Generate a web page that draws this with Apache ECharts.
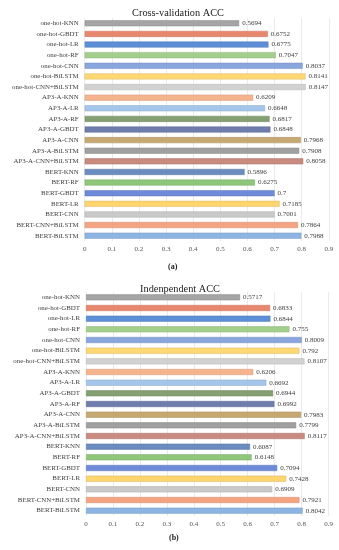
<!DOCTYPE html>
<html><head><meta charset="utf-8">
<script src="https://cdn.jsdelivr.net/npm/echarts@6/dist/echarts.min.js"></script>
<style>html,body{margin:0;padding:0;background:#fff}#c{width:339px;height:550px}</style>
</head><body><div id="c"></div>
<script>
const cvCategories = ["one-hot-KNN","one-hot-GBDT","one-hot-LR","one-hot-RF","one-hot-CNN","one-hot-BiLSTM","one-hot-CNN+BiLSTM",
  "AP3-A-KNN","AP3-A-LR","AP3-A-RF","AP3-A-GBDT","AP3-A-CNN","AP3-A-BiLSTM","AP3-A-CNN+BiLSTM",
  "BERT-KNN","BERT-RF","BERT-GBDT","BERT-LR","BERT-CNN","BERT-CNN+BiLSTM","BERT-BiLSTM"];
const cvValues = [0.5694,0.6752,0.6775,0.7047,0.8037,0.8141,0.8147,
  0.6209,0.6648,0.6817,0.6848,0.7968,0.7908,0.8058,
  0.5896,0.6275,0.7,0.7185,0.7001,0.7864,0.7988];
const indCategories = ["one-hot-KNN","one-hot-GBDT","one-hot-LR","one-hot-RF","one-hot-CNN","one-hot-BiLSTM","one-hot-CNN+BiLSTM",
  "AP3-A-KNN","AP3-A-LR","AP3-A-GBDT","AP3-A-RF","AP3-A-CNN","AP3-A-BiLSTM","AP3-A-CNN+BiLSTM",
  "BERT-KNN","BERT-RF","BERT-GBDT","BERT-LR","BERT-CNN","BERT-CNN+BiLSTM","BERT-BiLSTM"];
const indValues = [0.5717,0.6833,0.6844,0.755,0.8009,0.792,0.8107,
  0.6206,0.6692,0.6944,0.6992,0.7983,0.7799,0.8117,
  0.6087,0.6148,0.7094,0.7428,0.6909,0.7921,0.8042];
const xTicks = [0,0.1,0.2,0.3,0.4,0.5,0.6,0.7,0.8,0.9];
const barColors = ["#A5A5A5","#E9876E","#5D8FD8","#A3CF8C","#8AA6DE","#FFD873","#D2D2D2",
  "#F6B48C","#A3C6EA","#84A072","#6F7DAE","#C6A870","#A0A0A0","#C98A80",
  "#6B8CBF","#8FC77A","#6E8BDA","#FFD56E","#C9C9C9","#F5A482","#8DB5E4"];

function darker(hex){
  const n=parseInt(hex.slice(1),16);
  let r=(n>>16)&255,g=(n>>8)&255,b=n&255;
  r=Math.round(r*0.85);g=Math.round(g*0.85);b=Math.round(b*0.85);
  return 'rgb('+r+','+g+','+b+')';
}
const serif = "Liberation Serif";
function mkData(vals){
  return vals.map((v,i)=>({value:v,itemStyle:{color:barColors[i],borderColor:darker(barColors[i]),borderWidth:0.5}}));
}
const chart = echarts.init(document.getElementById('c'),null,{renderer:'canvas'});
const xAxisBase = (gi)=>({
  type:'value',gridIndex:gi,min:0,max:0.9,interval:0.1,
  axisLine:{show:false},axisTick:{show:false},
  splitLine:{show:true,lineStyle:{color:'#EBEBEB',width:1}},
  axisLabel:{fontFamily:serif,fontSize:7,color:'#555',margin:5,formatter:v=>xTicks.includes(Math.round(v*10)/10)?String(Math.round(v*10)/10):''}
});
const yAxisBase = (gi,cats)=>({
  type:'category',gridIndex:gi,data:cats,inverse:true,
  axisLine:{show:false},axisTick:{show:false},
  axisLabel:{fontFamily:serif,fontSize:6.9,color:'#404040',margin:6}
});
const seriesBase = (gi,vals)=>({
  type:'bar',xAxisIndex:gi,yAxisIndex:gi,data:mkData(vals),barWidth:6,
  label:{show:true,position:'right',distance:3,fontFamily:serif,fontSize:7,color:'#404040',formatter:p=>String(p.value)},
  animation:false
});
chart.setOption({
  animation:false,
  title:[
    {text:'Cross-validation ACC',left:173,top:3,textAlign:'center',textStyle:{fontFamily:serif,fontSize:10.3,fontWeight:'normal',color:'#222'}},
    {text:'Indenpendent ACC',left:175,top:279,textAlign:'center',textStyle:{fontFamily:serif,fontSize:10.3,fontWeight:'normal',color:'#222'}}
  ],
  grid:[
    {left:84.7,right:10.2,top:18,height:223,containLabel:false},
    {left:86,right:10.5,top:292,height:224,containLabel:false}
  ],
  xAxis:[xAxisBase(0),xAxisBase(1)],
  yAxis:[yAxisBase(0,cvCategories),yAxisBase(1,indCategories)],
  series:[seriesBase(0,cvValues),seriesBase(1,indValues)],
  graphic:[
    {type:'text',left:168,top:263,style:{text:'(a)',font:'bold 8px "Liberation Serif"',fill:'#222'}},
    {type:'text',left:169,top:534,style:{text:'(b)',font:'bold 8px "Liberation Serif"',fill:'#222'}}
  ]
});
</script></body></html>
